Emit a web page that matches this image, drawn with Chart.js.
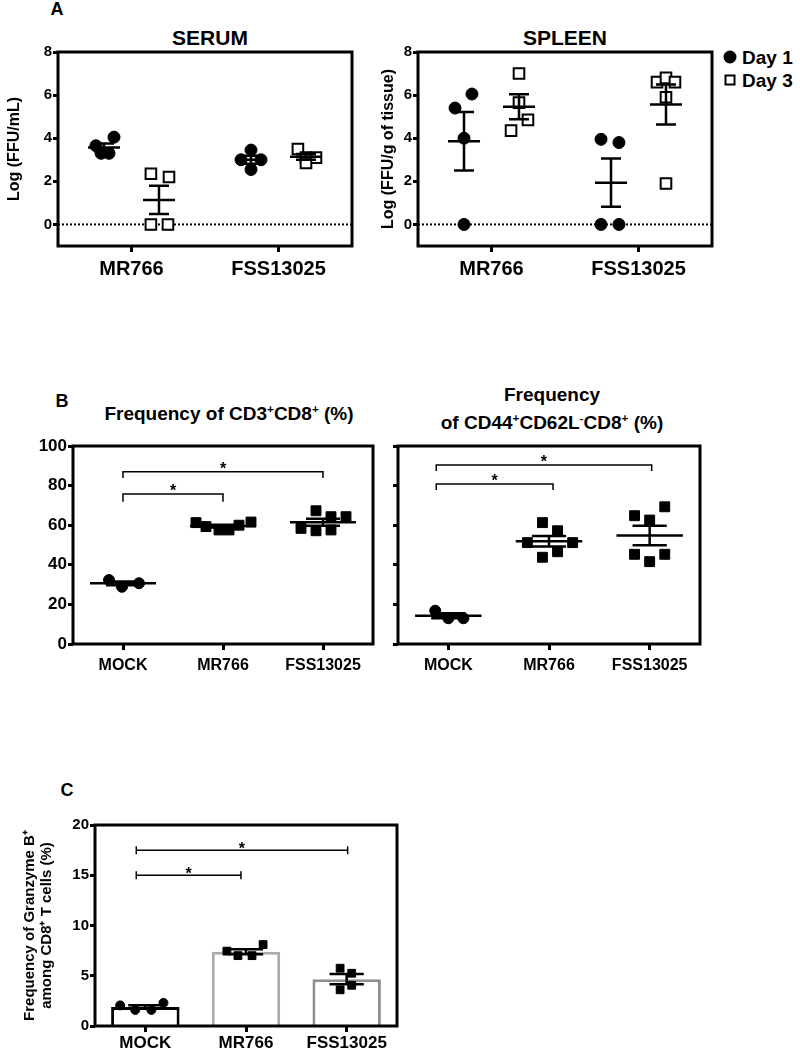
<!DOCTYPE html>
<html>
<head>
<meta charset="utf-8">
<script src="https://cdn.jsdelivr.net/npm/chart.js@4.4.0/dist/chart.umd.min.js"></script>
<style>
body { margin: 0; background: #fff; }
#page { position: relative; width: 800px; height: 1050px; font-family: "Liberation Sans", Arial, sans-serif; font-weight: bold; color: #000; }
#page canvas { position: absolute; }
.lbl { position: absolute; white-space: nowrap; transform: translate(-50%, -50%); line-height: 1; }
.lbl sup { font-size: 0.62em; line-height: 0; vertical-align: 0.55em; }
.key { position: absolute; white-space: nowrap; font-size: 19px; line-height: 1; transform: translateY(-50%); }
.dot { position: absolute; width: 13px; height: 13px; border-radius: 50%; background: #000; transform: translate(-50%, -50%); }
.box { position: absolute; width: 11px; height: 11px; border: 2px solid #000; box-sizing: border-box; background: #fff; transform: translate(-50%, -50%); }
</style>
</head>
<body>
<div id="page">
  <div class="lbl" style="left:57px;top:9px;font-size:18px">A</div>
  <div class="lbl" style="left:210px;top:37px;font-size:21px">SERUM</div>
  <div class="lbl" style="left:565px;top:37px;font-size:21px">SPLEEN</div>
  <div class="dot" style="left:730px;top:57px"></div>
  <div class="key" style="left:742px;top:57px">Day 1</div>
  <div class="box" style="left:730px;top:80px"></div>
  <div class="key" style="left:742px;top:80px">Day 3</div>

  <div class="lbl" style="left:62px;top:401px;font-size:18px">B</div>
  <div class="lbl" style="left:229px;top:413px;font-size:19px">Frequency of CD3<sup>+</sup>CD8<sup>+</sup> (%)</div>
  <div class="lbl" style="left:552px;top:394px;font-size:19px">Frequency</div>
  <div class="lbl" style="left:552px;top:422px;font-size:19px">of CD44<sup>+</sup>CD62L<sup>-</sup>CD8<sup>+</sup> (%)</div>

  <div class="lbl" style="left:67px;top:790px;font-size:18px">C</div>

  <canvas id="serum" width="375" height="250" style="left:0px;top:40px"></canvas>
  <canvas id="spleen" width="345" height="250" style="left:375px;top:40px"></canvas>
  <canvas id="cd3" width="380" height="260" style="left:0px;top:430px"></canvas>
  <canvas id="cd44" width="330" height="260" style="left:380px;top:430px"></canvas>
  <canvas id="gzb" width="410" height="240" style="left:0px;top:810px"></canvas>
</div>
<script>
// ---- data ----
const aGroups = ['MR766', 'FSS13025'];
const aYTicks = [0, 2, 4, 6, 8];
const serumDay1 = [[3.65, 4.05, 3.3, 3.3], [3.45, 3.0, 3.0, 2.55]];
const serumDay3 = [[2.35, 2.2, 0, 0], [3.5, 3.1, 3.1, 2.85]];
const spleenDay1 = [[5.4, 6.05, 4.0, 0], [3.95, 3.8, 0, 0]];
const spleenDay3 = [[7.0, 5.65, 4.85, 4.35], [6.6, 6.8, 6.6, 5.9, 1.9]];

const bGroups = ['MOCK', 'MR766', 'FSS13025'];
const bYTicks = [0, 20, 40, 60, 80, 100];
const cd3cd8 = [[32.3, 28.9, 30.7], [61.3, 59.3, 57.6, 57.6, 60.0, 61.6], [58.4, 67.3, 64.3, 57.6, 57.2, 64.3]];
const cd44cd62l = [[16.8, 13.0, 13.0], [61.3, 57.2, 51.2, 51.2, 46.6, 43.8], [69.3, 64.8, 62.6, 45.3, 45.3, 41.6]];
const cd3Brackets = [{from: 0, to: 1, y: 75.8, drop: 3.9, label: '*'}, {from: 0, to: 2, y: 87, drop: 3.2, label: '*'}];
const cd44Brackets = [{from: -0.12, to: 1.04, y: 80.8, drop: 3, label: '*'}, {from: -0.12, to: 2.02, y: 90.4, drop: 3, label: '*'}];

const cGroups = ['MOCK', 'MR766', 'FSS13025'];
const cYTicks = [0, 5, 10, 15, 20];
const granzymeB = [[2.05, 1.6, 1.6, 2.3], [7.45, 7.0, 7.0, 8.1], [5.75, 5.25, 3.6, 4.05]];
const gzbBrackets = [{from: -0.09, to: 0.95, y: 15, label: '*'}, {from: -0.09, to: 2.01, y: 17.5, label: '*'}];

// horizontal spread of the dots within a group, in category widths
const spread = {
  serumDay1: [[-0.055, 0.068, -0.02, 0.034], [0, -0.068, 0.068, 0]],
  serumDay3: [[-0.055, 0.068, -0.055, 0.061], [-0.055, 0, 0.068, 0]],
  spleenDay1: [[-0.061, 0.054, 0, 0], [-0.068, 0.054, -0.068, 0.054]],
  spleenDay3: [[0, 0, 0.061, -0.054], [-0.061, 0, 0.061, 0, 0]],
  cd3cd8: [[-0.14, -0.01, 0.16], [-0.27, -0.17, -0.04, 0.06, 0.16, 0.28], [-0.22, -0.07, 0.08, 0.08, -0.07, 0.23]],
  cd44cd62l: [[-0.13, 0, 0.15], [-0.065, 0.085, -0.215, 0.235, 0.085, -0.065], [0.15, -0.15, 0, -0.15, 0.15, 0]],
  granzymeB: [[-0.25, -0.1, 0.06, 0.18], [-0.19, -0.08, 0.06, 0.17], [-0.065, 0.05, -0.065, 0.05]]
};
const dayShift = 0.187;

Chart.defaults.font.family = '"Liberation Sans", Arial, sans-serif';
Chart.defaults.font.weight = 'bold';
Chart.defaults.color = '#000';

function mean(v) { return v.reduce((a, b) => a + b, 0) / v.length; }
function sem(v) {
  const m = mean(v);
  const ss = v.reduce((a, b) => a + (b - m) * (b - m), 0);
  return Math.sqrt(ss / (v.length - 1)) / Math.sqrt(v.length);
}

function scatterPoints(groups, jit, shift) {
  const pts = [];
  groups.forEach((vals, i) => vals.forEach((v, j) => pts.push({x: i + shift + jit[i][j], y: v})));
  return pts;
}

// mean line + SEM whiskers, broken into segments with null gaps
function errorBars(groups, shift, meanHalf, capHalf) {
  const pts = [];
  groups.forEach((vals, i) => {
    const x = i + shift, m = mean(vals), s = sem(vals);
    if (meanHalf) pts.push({x: x - meanHalf, y: m}, {x: x + meanHalf, y: m}, {x: x, y: null});
    pts.push({x: x - capHalf, y: m + s}, {x: x + capHalf, y: m + s}, {x: x, y: null});
    pts.push({x: x - capHalf, y: m - s}, {x: x + capHalf, y: m - s}, {x: x, y: null});
    pts.push({x: x, y: m - s}, {x: x, y: m + s}, {x: x, y: null});
  });
  return pts;
}

const frame = {
  id: 'frame',
  afterDraw(chart) {
    const {ctx, chartArea: a} = chart;
    ctx.save();
    ctx.lineWidth = 3;
    ctx.strokeStyle = '#000';
    ctx.strokeRect(a.left, a.top, a.right - a.left, a.bottom - a.top);
    ctx.restore();
  }
};

const brackets = {
  id: 'brackets',
  afterDatasetsDraw(chart, args, opts) {
    if (!opts.items) return;
    const {ctx, scales: {x, y}} = chart;
    ctx.save();
    ctx.strokeStyle = '#000';
    ctx.fillStyle = '#000';
    ctx.lineWidth = opts.lineWidth;
    ctx.font = opts.font;
    ctx.textAlign = 'center';
    opts.items.forEach(b => {
      const x1 = x.getPixelForValue(b.from), x2 = x.getPixelForValue(b.to), py = y.getPixelForValue(b.y);
      ctx.beginPath();
      if (opts.style === 'down') {
        const pd = y.getPixelForValue(b.y - b.drop);
        ctx.moveTo(x1, pd); ctx.lineTo(x1, py); ctx.lineTo(x2, py); ctx.lineTo(x2, pd);
      } else {
        ctx.moveTo(x1, py); ctx.lineTo(x2, py);
        ctx.moveTo(x1, py - opts.cap); ctx.lineTo(x1, py + opts.cap);
        ctx.moveTo(x2, py - opts.cap); ctx.lineTo(x2, py + opts.cap);
      }
      ctx.stroke();
      ctx.fillText(b.label, (x1 + x2) / 2, py + opts.starOffset);
    });
    ctx.restore();
  }
};

function xAxis(labels, height, size, pad) {
  return {
    type: 'linear', min: -0.5, max: labels.length - 0.5, offset: false,
    afterBuildTicks: s => { s.ticks = labels.map((_, i) => ({value: i})); },
    afterFit: s => { s.height = height; },
    grid: {drawOnChartArea: false, drawTicks: true, tickLength: 6, tickWidth: 3, tickColor: '#000', offset: false},
    border: {display: false},
    ticks: {callback: v => labels[v], font: {size: size, weight: 'bold'}, padding: pad, maxRotation: 0, autoSkip: false}
  };
}

function yAxis(values, min, max, width, size, showLabels, title) {
  return {
    type: 'linear', min: min, max: max,
    afterBuildTicks: s => { s.ticks = values.map(v => ({value: v})); },
    afterFit: s => { s.width = width; },
    grid: {drawOnChartArea: false, drawTicks: true, tickLength: 5, tickWidth: 3, tickColor: '#000'},
    border: {display: false},
    ticks: {callback: v => showLabels ? v : '', font: {size: size, weight: 'bold'}, padding: 1},
    title: title || {display: false}
  };
}

function virusChart(id, day1, day3, jit1, jit3, yTitle, titlePad, yWidth, pad) {
  return new Chart(document.getElementById(id), {
    type: 'scatter',
    data: {
      datasets: [
        {type: 'line', label: 'Day 1 SEM', data: errorBars(day1, -dayShift, 0.109, 0.068), borderColor: '#000', borderWidth: 2.5, pointRadius: 0, order: 0},
        {type: 'line', label: 'Day 3 SEM', data: errorBars(day3, dayShift, 0.109, 0.068), borderColor: '#000', borderWidth: 2.5, pointRadius: 0, order: 0},
        {label: 'Day 1', data: scatterPoints(day1, jit1, -dayShift), pointStyle: 'circle', pointRadius: 6,
         pointBackgroundColor: '#000', pointBorderColor: '#000', pointBorderWidth: 1, order: 1},
        {label: 'Day 3', data: scatterPoints(day3, jit3, dayShift), pointStyle: 'rect', pointRadius: 7.5,
         pointBackgroundColor: '#fff', pointBorderColor: '#000', pointBorderWidth: 2, order: 1},
        {type: 'line', label: 'zero', data: [{x: -0.5, y: 0}, {x: aGroups.length - 0.5, y: 0}],
         borderColor: '#000', borderWidth: 2, borderDash: [2, 2], pointRadius: 0, order: 3}
      ]
    },
    options: {
      responsive: false, animation: false, events: [],
      layout: {autoPadding: false, padding: pad},
      plugins: {legend: {display: false}, tooltip: {enabled: false}},
      scales: {
        x: xAxis(aGroups, 44, 20, 5),
        y: yAxis(aYTicks, -1, 8, yWidth, 15, true,
          {display: true, text: yTitle, font: {size: 16, weight: 'bold'}, padding: {top: titlePad, bottom: 0}})
      }
    },
    plugins: [frame]
  });
}

virusChart('serum', serumDay1, serumDay3, spread.serumDay1, spread.serumDay3,
  'Log (FFU/mL)', 5, 58, {top: 12, right: 23, left: 0, bottom: 0});
virusChart('spleen', spleenDay1, spleenDay3, spread.spleenDay1, spread.spleenDay3,
  'Log (FFU/g of tissue)', 4, 43, {top: 12, right: 8, left: 0, bottom: 0});

function tcellChart(id, values, jit, br, showLabels, yWidth, pad) {
  return new Chart(document.getElementById(id), {
    type: 'scatter',
    data: {
      datasets: [
        {type: 'line', label: 'SEM', data: errorBars(values, 0, 0.33, 0.17), borderColor: '#000', borderWidth: 2.5, pointRadius: 0, order: 0},
        {label: 'MOCK', data: scatterPoints(values.slice(0, 1), jit.slice(0, 1), 0), pointStyle: 'circle', pointRadius: 5.5,
         pointBackgroundColor: '#000', pointBorderColor: '#000', order: 1},
        {label: 'infected', data: scatterPoints(values.slice(1), jit.slice(1), 1), pointStyle: 'rect', pointRadius: 7,
         pointBackgroundColor: '#000', pointBorderColor: '#000', order: 1}
      ]
    },
    options: {
      responsive: false, animation: false, events: [],
      layout: {autoPadding: false, padding: pad},
      plugins: {
        legend: {display: false}, tooltip: {enabled: false},
        brackets: {items: br, style: 'down', lineWidth: 1.5, font: 'bold 16px "Liberation Sans", Arial, sans-serif', starOffset: 2}
      },
      scales: {
        x: xAxis(bGroups, 46, 16, 6),
        y: yAxis(bYTicks, 0, 100, yWidth, 17, showLabels)
      }
    },
    plugins: [frame, brackets]
  });
}

tcellChart('cd3', cd3cd8, spread.cd3cd8, cd3Brackets, true, 73, {top: 16, right: 7, left: 0, bottom: 0});
tcellChart('cd44', cd44cd62l, spread.cd44cd62l, cd44Brackets, false, 18, {top: 16, right: 10, left: 0, bottom: 0});

new Chart(document.getElementById('gzb'), {
  type: 'scatter',
  data: {
    datasets: [
      {type: 'line', label: 'SEM', data: errorBars(granzymeB, 0, 0, 0.17), borderColor: '#000', borderWidth: 2.5, pointRadius: 0, order: 0},
      {label: 'MOCK', data: scatterPoints(granzymeB.slice(0, 1), spread.granzymeB.slice(0, 1), 0), pointStyle: 'circle', pointRadius: 4.5,
       pointBackgroundColor: '#000', pointBorderColor: '#000', order: 1},
      {label: 'infected', data: scatterPoints(granzymeB.slice(1), spread.granzymeB.slice(1), 1), pointStyle: 'rect', pointRadius: 5.5,
       pointBackgroundColor: '#000', pointBorderColor: '#000', order: 1},
      {type: 'bar', label: 'mean', data: granzymeB.map((v, i) => ({x: i, y: mean(v)})),
       backgroundColor: '#fff', borderColor: ['#000', '#ababab', '#8e8e8e'], borderWidth: 3,
       barPercentage: 0.68, categoryPercentage: 1, order: 2}
    ]
  },
  options: {
    responsive: false, animation: false, events: [],
    layout: {autoPadding: false, padding: {top: 15, right: 13, left: 0, bottom: 0}},
    plugins: {
      legend: {display: false}, tooltip: {enabled: false},
      brackets: {items: gzbBrackets, style: 'caps', cap: 4, lineWidth: 1.5, font: 'bold 16px "Liberation Sans", Arial, sans-serif', starOffset: 4}
    },
    scales: {
      x: xAxis(cGroups, 24, 17, 1),
      y: yAxis(cYTicks, 0, 20, 95, 15, true,
        {display: true, text: ['Frequency of Granzyme B\u207A', 'among CD8\u207A T cells (%)'],
         font: {size: 15, weight: 'bold', lineHeight: 1.15}, padding: {top: 21, bottom: 0}})
    }
  },
  plugins: [frame, brackets]
});
</script>
</body>
</html>
